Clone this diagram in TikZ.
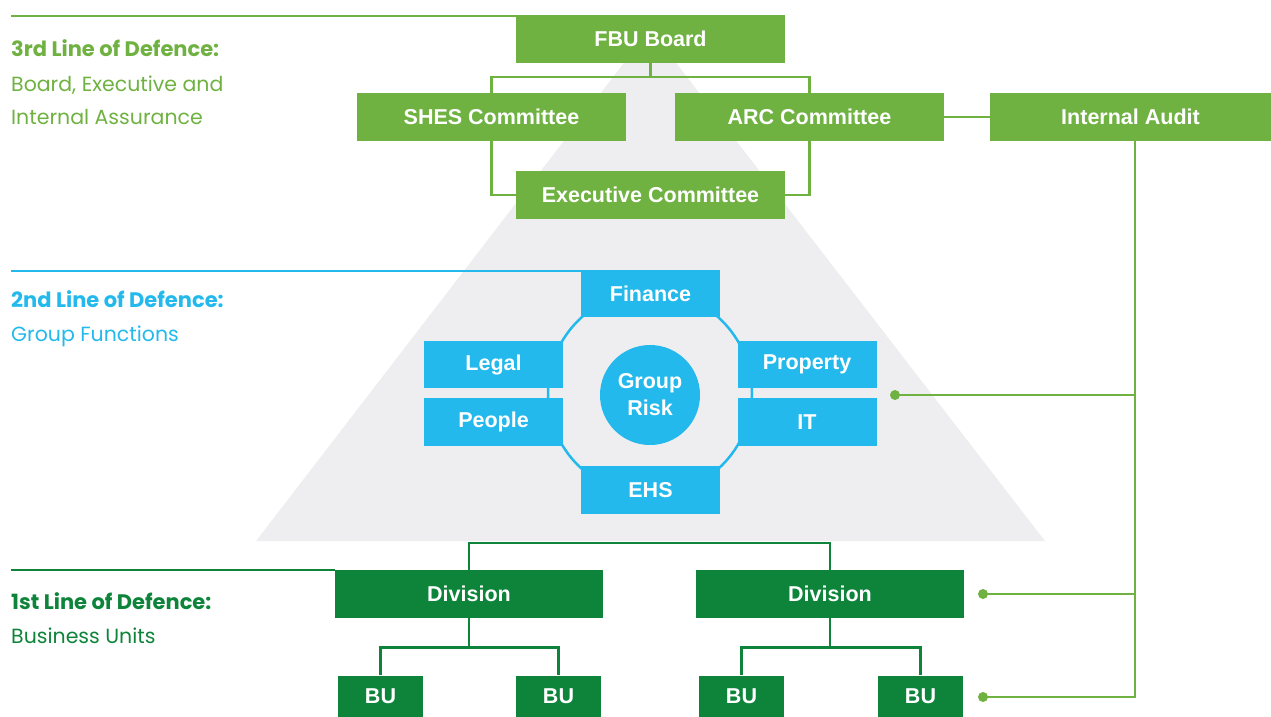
\documentclass[tikz,border=0pt]{standalone}
\usepackage{fontspec}
\setmainfont{Liberation Sans}
\newfontfamily\lblfont{Poppins}
\definecolor{lg}{HTML}{6FB241}
\definecolor{bl}{HTML}{23B9EC}
\definecolor{dg}{HTML}{0E843B}
\definecolor{tri}{HTML}{EEEEF0}
\begin{document}
\begin{tikzpicture}[x=1pt,y=-1pt,
  boxbase/.style={inner sep=0pt, text=white, font=\fontsize{21.5}{24}\selectfont\bfseries},
  gbox/.style={boxbase, fill=lg, minimum width=269pt, minimum height=48pt},
  bbox/.style={boxbase, fill=bl, minimum width=139pt, minimum height=47pt},
  dbox/.style={boxbase, fill=dg, minimum width=268pt, minimum height=48pt},
  bubox/.style={boxbase, fill=dg, minimum width=85pt, minimum height=41pt},
  gline/.style={draw=lg, line width=2.5pt},
  bline/.style={draw=bl, line width=2.5pt},
  dline/.style={draw=dg, line width=2.5pt},
  lblhead/.style={anchor=west, inner sep=0pt, font=\lblfont\bfseries\fontsize{21}{24}\selectfont},
  lbltext/.style={anchor=west, inner sep=0pt, font=\lblfont\fontsize{20.5}{24}\selectfont},
  dot/.style={circle, fill=lg, inner sep=0pt, minimum size=10pt}
]
\useasboundingbox (0,0) rectangle (1271,716);
% pyramid
\fill[tri] (650,29) -- (1045,541) -- (256,541) -- cycle;
% ring
\draw[bline] (650,393) circle (102pt);

% 3rd line
\node[gbox] (fbu) at (650.5,39) {FBU Board};
\node[gbox] (shes) at (491.5,117) {SHES Committee};
\node[gbox] (arc) at (809.5,117) {ARC Committee};
\node[gbox] (exec) at (650.5,195) {Executive Committee};
\node[gbox, minimum width=281pt] (ia) at (1130.5,117) {Internal Audit};

% 2nd line
\node[bbox] (fin) at (650.5,293.5) {Finance};
\node[bbox] (legal) at (493.5,364.5) {Legal};
\node[bbox, minimum height=48pt] (people) at (493.5,422) {People};
\node[bbox] (prop) at (807,364.5) {Property};
\node[bbox, minimum height=48pt] (it) at (807,422) {IT};
\node[bbox, minimum height=48pt] (ehs) at (650.5,490) {EHS};
\node[circle, fill=bl, minimum size=100pt, inner sep=0pt, text=white, align=center,
      font=\fontsize{21.5}{27}\selectfont\bfseries] (risk) at (650,395) {Group\\Risk};

% 1st line
\node[dbox] (div1) at (469,594) {Division};
\node[dbox] (div2) at (830,594) {Division};
\node[bubox] (bu1) at (380.5,696) {BU};
\node[bubox] (bu2) at (558.5,696) {BU};
\node[bubox] (bu3) at (741.5,696) {BU};
\node[bubox] (bu4) at (920.5,696) {BU};

% connectors 3rd line
\draw[gline] (fbu.south) -- ++(0,14);
\draw[gline] (shes.north) -- ++(0,-16) -| (arc.north);
\draw[gline] (shes.south) |- (exec.west);
\draw[gline] (arc.south) |- (exec.east);
\draw[gline] (arc.east) -- (ia.west);
\path ([xshift=4.5pt]ia.south) coordinate (iab);
\node[dot] (d1) at (895,395) {};
\node[dot] (d2) at (983,594) {};
\node[dot] (d3) at (983,697) {};
\draw[gline] (iab) |- (d3.center);
\draw[gline] (d1.center) -- (d1 -| iab);
\draw[gline] (d2.center) -- (d2 -| iab);

% connectors 1st line
\draw[dline] (div1.north) -- ++(0,-27) -| (div2.north);
\draw[dline] (div1.south) -- ++(0,30);
\draw[dline] (div2.south) -- ++(0,30);
\draw[dline] (bu1.north) -- ++(0,-28) -| (bu2.north);
\draw[dline] (bu3.north) -- ++(0,-28) -| (bu4.north);

% left lines
\coordinate (l3) at (11,16);
\draw[gline] (l3) -- (l3 -| fbu.west);
\coordinate (l2) at (11,271);
\draw[bline] (l2) -- (l2 -| fin.west);
\coordinate (l1) at (11,570);
\draw[dline] (l1) -- (l1 -| div1.west);

% left labels
\node[lblhead, text=lg] (h3) at (11,48) {3rd Line of Defence:};
\node[lbltext, text=lg] (t3a) at (11,85) {Board, Executive and};
\node[lbltext, text=lg] (t3b) at (11,117) {Internal Assurance};
\node[lblhead, text=bl] (h2) at (11,299) {2nd Line of Defence:};
\node[lbltext, text=bl] (t2) at (11,336) {Group Functions};
\node[lblhead, text=dg] (h1) at (11,601) {1st Line of Defence:};
\node[lbltext, text=dg] (t1) at (11,636) {Business Units};
\end{tikzpicture}
\end{document}
